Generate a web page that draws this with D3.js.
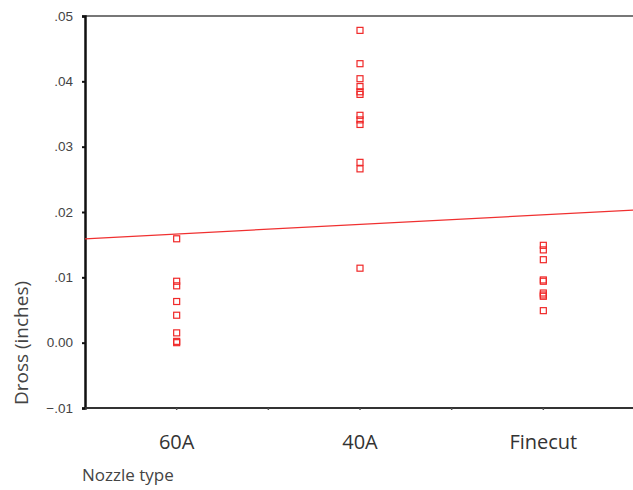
<!DOCTYPE html>
<html>
<head>
<meta charset="utf-8">
<script src="https://cdn.jsdelivr.net/npm/d3@7"></script>
<style>
  body { margin: 0; background: #fff; }
  svg { display: block; }
</style>
</head>
<body>
<svg width="633" height="490"></svg>
<script>
const nozzles = ["60A", "40A", "Finecut"]
const dross60A = [0.0159, 0.0094, 0.0087, 0.0063, 0.0042, 0.0015, 0.0002, 0.0000]
const dross40A = [0.0478, 0.0427, 0.0404, 0.0392, 0.0384, 0.0380, 0.0348, 0.0341, 0.0334,
                  0.0276, 0.0266, 0.0114]
const drossFinecut = [0.0149, 0.0142, 0.0127, 0.0096, 0.0094, 0.0076, 0.0073, 0.0071, 0.0049]
const yTicks = [-0.01, 0.00, 0.01, 0.02, 0.03, 0.04, 0.05]
// fit line read at left and right edge of plot
const fitLine = [{pos: 0, v: 0.0159}, {pos: 1, v: 0.0203}]

const svg = d3.select("svg")
const plotL = 85, plotR = 635, plotT = 16, plotB = 408

const x = d3.scaleBand().domain(nozzles).range([plotL, plotR])
const y = d3.scaleLinear().domain([-0.01, 0.05]).range([plotB, plotT])
const xEdge = d3.scaleLinear().domain([0, 1]).range([plotL, plotR])

const fmt = v => {
  if (Math.abs(v) < 1e-9) return "0.00"
  return d3.format(".2f")(v).replace("0.", ".")
}

// top frame line
svg.append("line")
  .attr("x1", plotL).attr("x2", plotR)
  .attr("y1", plotT).attr("y2", plotT)
  .attr("stroke", "#777").attr("stroke-width", 2)

// y axis
const yAxis = svg.append("g")
  .attr("transform", "translate(" + plotL + ",0)")
  .call(d3.axisLeft(y).tickValues(yTicks).tickFormat(fmt).tickSize(3).tickPadding(9))
yAxis.select(".domain").attr("stroke", "#111").attr("stroke-width", 2.5)
yAxis.selectAll(".tick line").attr("stroke", "#111").attr("stroke-width", 2)
yAxis.selectAll(".tick text")
  .attr("font-family", "Liberation Sans, Arial, sans-serif")
  .attr("font-size", 13.5).attr("fill", "#444")

// x axis with minor ticks at band edges
const edges = nozzles.map(d => x(d)).concat([plotR])
svg.append("line")
  .attr("x1", plotL).attr("x2", plotR)
  .attr("y1", plotB).attr("y2", plotB)
  .attr("stroke", "#333").attr("stroke-width", 2)
svg.selectAll("line.xtick")
  .data(nozzles.map(d => x(d) + x.bandwidth() / 2).concat(edges.slice(1, 3)))
  .enter().append("line")
  .attr("class", "xtick")
  .attr("x1", d => d).attr("x2", d => d)
  .attr("y1", plotB).attr("y2", plotB + 2)
  .attr("stroke", "#555").attr("stroke-width", 1.5)
svg.selectAll("text.xlab")
  .data(nozzles).enter().append("text")
  .attr("class", "xlab")
  .attr("x", d => x(d) + x.bandwidth() / 2)
  .attr("y", 449)
  .attr("text-anchor", "middle")
  .attr("font-family", "Open Sans, sans-serif")
  .attr("font-size", 20).attr("fill", "#333")
  .text(d => d)

svg.append("text")
  .attr("x", plotL - 3).attr("y", 481)
  .attr("font-family", "Open Sans, sans-serif")
  .attr("font-size", 17).attr("fill", "#444")
  .text("Nozzle type")

svg.append("text")
  .attr("transform", "translate(28,343) rotate(-90)")
  .attr("text-anchor", "middle")
  .attr("font-family", "Open Sans, sans-serif")
  .attr("font-size", 19).attr("fill", "#444")
  .text("Dross (inches)")

// fit line
svg.append("line")
  .attr("x1", xEdge(fitLine[0].pos)).attr("y1", y(fitLine[0].v))
  .attr("x2", xEdge(fitLine[1].pos)).attr("y2", y(fitLine[1].v))
  .attr("stroke", "#f03030").attr("stroke-width", 1.3)

// points
const points = []
;[dross60A, dross40A, drossFinecut].forEach((arr, i) => {
  arr.forEach(v => points.push({nozzle: nozzles[i], v: v}))
})
svg.selectAll("rect.pt")
  .data(points).enter().append("rect")
  .attr("class", "pt")
  .attr("x", d => x(d.nozzle) + x.bandwidth() / 2 - 3)
  .attr("y", d => y(d.v) - 3)
  .attr("width", 6).attr("height", 6)
  .attr("fill", "none")
  .attr("stroke", "#f02828").attr("stroke-width", 1.2)
</script>
</body>
</html>
